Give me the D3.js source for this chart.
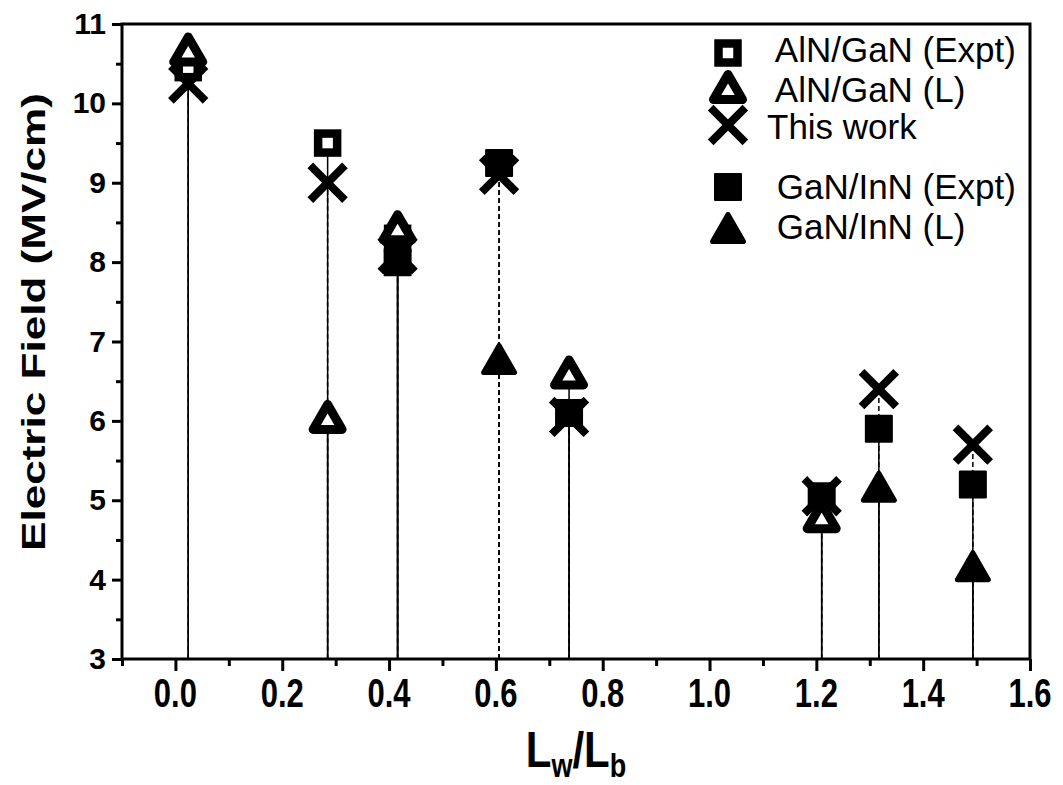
<!DOCTYPE html>
<html>
<head>
<meta charset="utf-8">
<script src="https://cdn.jsdelivr.net/npm/d3@7"></script>
<style>
  body { margin: 0; background: #fff; }
  text { font-family: "Liberation Sans", Arial, sans-serif; fill: #000; }
</style>
</head>
<body>
<div id="chart"></div>
<script>
// L_w / L_b positions of the samples
const ratios = [0.024, 0.285, 0.416, 0.606, 0.737, 1.21, 1.317, 1.493];

// Electric field values (MV/cm), null = no point
const alnGanExpt = [10.45, 9.5, 8.3, null, null, null, null, null];
const alnGanL    = [10.68, 6.05, 8.44, null, 6.61, 4.8, null, null];
const thisWork   = [10.25, 9.0, 8.1, 9.1, 6.05, 5.05, 6.4, 5.7];
const ganInnExpt = [null, null, 8.0, 9.25, 6.1, 5.05, 5.9, 5.2];
const ganInnL    = [null, null, null, 6.78, null, null, 5.17, 4.17];

const dashedStems = [0.606];

const xTicks = [0.0, 0.2, 0.4, 0.6, 0.8, 1.0, 1.2, 1.4, 1.6];
const yTicks = [3, 4, 5, 6, 7, 8, 9, 10, 11];

const series = [
  {name: " AlN/GaN (Expt)", values: alnGanExpt, shape: "openSquare", dash: false},
  {name: " AlN/GaN (L)",    values: alnGanL,    shape: "openTri",    dash: false},
  {name: "This work",       values: thisWork,   shape: "cross",      dash: true},
  {name: " GaN/InN (Expt)", values: ganInnExpt, shape: "fillSquare", dash: false},
  {name: " GaN/InN (L)",    values: ganInnL,    shape: "fillTri",    dash: false}
];

const W = 1063, H = 785;
const margin = {top: 24, right: 33, bottom: 126, left: 122};

const svg = d3.select("#chart").append("svg")
  .attr("width", W).attr("height", H);

const x = d3.scaleLinear().domain([-0.1, 1.6]).range([margin.left, W - margin.right]);
const y = d3.scaleLinear().domain([3, 11]).range([H - margin.bottom, margin.top]);

// drop lines, dashed first so solid ones sit on top
const drops = [];
series.forEach(s => s.values.forEach((v, i) => {
  if (v == null) return;
  const r = ratios[i];
  drops.push({r, v, dash: s.dash || dashedStems.includes(r)});
}));
drops.sort((a, b) => b.dash - a.dash);

svg.append("g").selectAll("line").data(drops).join("line")
  .attr("x1", d => x(d.r)).attr("x2", d => x(d.r))
  .attr("y1", y(3)).attr("y2", d => y(d.v))
  .attr("stroke", "#000").attr("stroke-width", 1.5)
  .attr("stroke-dasharray", d => d.dash ? "5,3" : null);

// marker shapes
function drawMarker(g, shape) {
  if (shape === "openSquare") {
    g.append("rect").attr("x", -9.5).attr("y", -9.5).attr("width", 19).attr("height", 19)
      .attr("fill", "#fff").attr("stroke", "#000").attr("stroke-width", 8.5);
  } else if (shape === "fillSquare") {
    g.append("rect").attr("x", -13).attr("y", -13).attr("width", 26).attr("height", 26)
      .attr("fill", "#000").attr("stroke", "#000").attr("stroke-width", 2)
      .attr("stroke-linejoin", "round");
  } else if (shape === "openTri") {
    g.append("path").attr("d", "M0,-12.5L14.5,12.5L-14.5,12.5Z")
      .attr("fill", "#fff").attr("stroke", "#000").attr("stroke-width", 9)
      .attr("stroke-linejoin", "round");
  } else if (shape === "fillTri") {
    g.append("path").attr("d", "M0,-13.5L15.5,13.5L-15.5,13.5Z")
      .attr("fill", "#000").attr("stroke", "#000").attr("stroke-width", 5)
      .attr("stroke-linejoin", "round");
  } else if (shape === "cross") {
    g.append("path").attr("d", "M-14.5,-14.5L14.5,14.5M14.5,-14.5L-14.5,14.5")
      .attr("fill", "none").attr("stroke", "#000").attr("stroke-width", 8)
      .attr("stroke-linecap", "square");
  }
}

series.forEach(s => {
  const pts = s.values.map((v, i) => ({r: ratios[i], v})).filter(d => d.v != null);
  svg.append("g").selectAll("g").data(pts).join("g")
    .attr("transform", d => `translate(${x(d.r)},${y(d.v)})`)
    .each(function() { drawMarker(d3.select(this), s.shape); });
});

// frame
svg.append("rect")
  .attr("x", margin.left).attr("y", margin.top)
  .attr("width", W - margin.right - margin.left).attr("height", H - margin.bottom - margin.top)
  .attr("fill", "none").attr("stroke", "#000").attr("stroke-width", 3);

// axes
const xAxis = svg.append("g").attr("transform", `translate(0,${y(3)})`)
  .call(d3.axisBottom(x).tickValues(xTicks).tickFormat("").tickSize(12));
const xMinor = svg.append("g").attr("transform", `translate(0,${y(3)})`)
  .call(d3.axisBottom(x).tickValues(d3.range(-0.1, 1.6, 0.2)).tickFormat("").tickSize(7));

const yAxis = svg.append("g").attr("transform", `translate(${x(-0.1)},0)`)
  .call(d3.axisLeft(y).tickValues(yTicks).tickSize(10).tickPadding(6));
const yMinor = svg.append("g").attr("transform", `translate(${x(-0.1)},0)`)
  .call(d3.axisLeft(y).tickValues(d3.range(3.5, 11, 1)).tickFormat("").tickSize(6));

[xAxis, xMinor, yAxis, yMinor].forEach(a => {
  a.select(".domain").remove();
  a.selectAll(".tick line").attr("stroke", "#000").attr("stroke-width", 3);
});
yAxis.selectAll("text").attr("font-size", 30).attr("font-weight", "bold").attr("font-family", null);

// x tick labels, drawn tall and narrow like the original
const fmt = d3.format(".1f");
svg.append("g").selectAll("text").data(xTicks).join("text")
  .attr("transform", d => `translate(${x(d)},${y(3) + 48}) scale(1,1.3)`)
  .attr("text-anchor", "middle")
  .attr("font-size", 31).attr("font-weight", "bold")
  .text(d => fmt(d));

// axis titles
svg.append("text")
  .attr("transform", "translate(45,322) rotate(-90)")
  .attr("text-anchor", "middle")
  .attr("font-size", 34).attr("font-weight", "bold")
  .attr("textLength", 458).attr("lengthAdjust", "spacingAndGlyphs")
  .text("Electric Field (MV/cm)");

const xt = svg.append("text")
  .attr("transform", "translate(576,767) scale(1,1.2)")
  .attr("text-anchor", "middle")
  .attr("font-size", 42).attr("font-weight", "bold");
xt.append("tspan").text("L");
xt.append("tspan").attr("font-size", 27).attr("dy", 8).text("w");
xt.append("tspan").attr("dy", -8).text("/L");
xt.append("tspan").attr("font-size", 27).attr("dy", 8).text("b");

// legend
const symRows = [53, 87, 125, 187, 228];
const textRows = [50, 90, 127, 187, 227];
const legend = svg.append("g");
series.forEach((s, i) => {
  const g = legend.append("g").attr("transform", `translate(728,${symRows[i]})`);
  drawMarker(g, s.shape);
  legend.append("text").attr("x", 767).attr("y", textRows[i] + 12)
    .attr("font-size", 35)
    .style("white-space", "pre")
    .text(s.name);
});
</script>
</body>
</html>
